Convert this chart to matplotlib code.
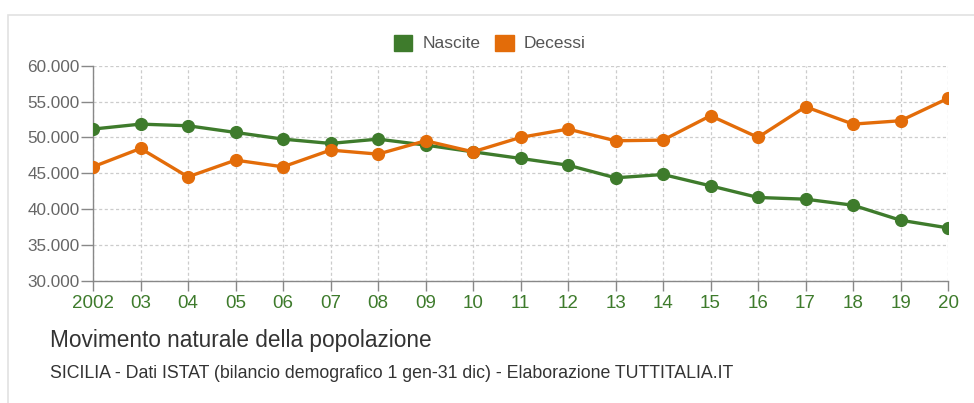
import matplotlib
matplotlib.use("Agg")
import matplotlib.pyplot as plt
from matplotlib.patches import Rectangle, Patch

years = list(range(2002, 2021))
xlabels = ["2002", "03", "04", "05", "06", "07", "08", "09", "10", "11",
           "12", "13", "14", "15", "16", "17", "18", "19", "20"]
nascite = [51170, 51860, 51630, 50700, 49770, 49170, 49770, 48940, 48000, 47080,
           46140, 44380, 44840, 43260, 41640, 41400, 40560, 38470, 37400]
decessi = [45910, 48470, 44510, 46840, 45910, 48240, 47680, 49540, 48000, 50010,
           51170, 49540, 49630, 53030, 50010, 54280, 51860, 52330, 55450]
yticks = [30000, 35000, 40000, 45000, 50000, 55000, 60000]
ylabels = ["30.000", "35.000", "40.000", "45.000", "50.000", "55.000", "60.000"]

GREEN = "#3e7b2c"
ORANGE = "#e36c09"

plt.rcParams['font.family'] = ['Liberation Sans', 'DejaVu Sans']

W, H = 974, 403
fig = plt.figure(figsize=(W / 100, H / 100), dpi=100)
fig.patch.set_facecolor("white")

# outer frame
fig.patches.append(Rectangle((8 / W, -0.1), 1.1, 1 - 15 / H + 0.1, transform=fig.transFigure,
                             fill=False, edgecolor="#e2e2e2", linewidth=1.2))

ax = fig.add_axes([93 / W, 1 - 281 / H, (948 - 93) / W, (281 - 65.7) / H])
ax.set_xlim(2002, 2020)
ax.set_ylim(30000, 60000)

ax.plot(years, nascite, color=GREEN, linewidth=2.4, marker="o", markersize=8.5, zorder=3)
ax.plot(years, decessi, color=ORANGE, linewidth=2.4, marker="o", markersize=8.5, zorder=3)

for s in ["top", "right"]:
    ax.spines[s].set_visible(False)
for s in ["left", "bottom"]:
    ax.spines[s].set_color("#888888")
    ax.spines[s].set_linewidth(1.0)

ax.set_xticks(years)
ax.set_xticklabels(xlabels, color=GREEN, fontsize=13.5)
ax.set_yticks(yticks)
ax.set_yticklabels(ylabels, color="#666666", fontsize=12.3)
ax.tick_params(axis="both", direction="out", color="#888888", width=1)
ax.tick_params(axis="x", pad=3, length=7)
ax.tick_params(axis="y", pad=0.5, length=9)
ax.grid(True, color="#cccccc", linestyle=(0, (2.5, 2)), linewidth=0.9)
ax.set_axisbelow(True)

handles = [Patch(facecolor=GREEN, edgecolor=GREEN), Patch(facecolor=ORANGE, edgecolor=ORANGE)]
fig.legend(handles=handles, labels=["Nascite", "Decessi"],
           loc="center", bbox_to_anchor=(490 / W, 1 - 43 / H), ncol=2, frameon=False,
           fontsize=12.5, handlelength=1.05, handleheight=1.05, handletextpad=0.6,
           columnspacing=0.85, labelcolor="#555555")

fig.text(50 / W, 1 - 340 / H, "Movimento naturale della popolazione", fontsize=16.3,
         color="#333333", va="center", ha="left")
fig.text(50 / W, 1 - 373 / H,
         "SICILIA - Dati ISTAT (bilancio demografico 1 gen-31 dic) - Elaborazione TUTTITALIA.IT",
         fontsize=12.8, color="#333333", va="center", ha="left")

fig.savefig("out.png", dpi=100)
